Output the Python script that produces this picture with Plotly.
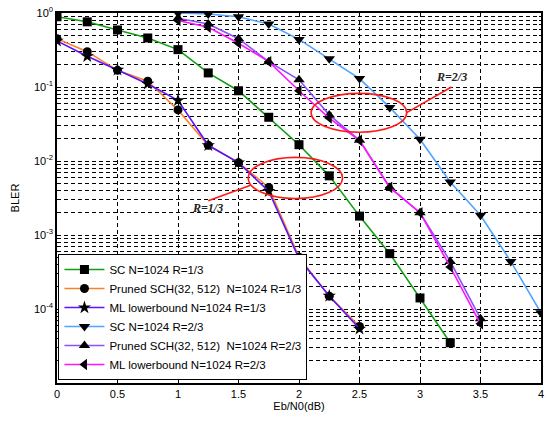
import plotly.graph_objects as go

ebn0_a = [0, 0.25, 0.5, 0.75, 1, 1.25, 1.5, 1.75, 2, 2.25, 2.5, 2.75, 3, 3.25]
sc_13 = [0.89, 0.76, 0.59, 0.46, 0.32, 0.155, 0.089, 0.039, 0.0166, 0.0063, 0.0018, 5.6e-4, 1.41e-4, 3.5e-5]

ebn0_b = [0, 0.25, 0.5, 0.75, 1, 1.25, 1.5, 1.75, 2, 2.25, 2.5]
pruned_13 = [0.45, 0.30, 0.168, 0.12, 0.049, 0.0163, 0.0095, 0.0044, 5.0e-4, 1.49e-4, 5.8e-5]
ml_13 = [0.42, 0.26, 0.17, 0.11, 0.066, 0.0163, 0.0095, 0.0039, 4.8e-4, 1.5e-4, 5.4e-5]

ebn0_c = [1, 1.25, 1.5, 1.75, 2, 2.25, 2.5, 2.75, 3, 3.25, 3.5, 3.75, 4]
sc_23 = [1.0, 0.97, 0.89, 0.71, 0.44, 0.24, 0.13, 0.053, 0.0197, 0.0052, 0.00185, 4.4e-4, 8.9e-5]

ebn0_d = [1, 1.25, 1.5, 1.75, 2, 2.25, 2.5, 2.75, 3, 3.25, 3.5]
pruned_23 = [0.85, 0.71, 0.45, 0.22, 0.125, 0.042, 0.019, 0.0044, 0.0020, 4.4e-4, 7.4e-5]
ml_23 = [0.79, 0.64, 0.39, 0.22, 0.089, 0.038, 0.019, 0.0044, 0.0020, 3.7e-4, 6.3e-5]

x_ticks = [0, 0.5, 1, 1.5, 2, 2.5, 3, 3.5, 4]
x_ticklabels = ["0", "0.5", "1", "1.5", "2", "2.5", "3", "3.5", "4"]
y_ticks = [1, 1e-1, 1e-2, 1e-3, 1e-4]
y_ticklabels = ["10<sup>0</sup>", "10<sup>-1</sup>", "10<sup>-2</sup>", "10<sup>-3</sup>", "10<sup>-4</sup>"]

names = ["SC N=1024 R=1/3",
         "Pruned SCH(32, 512)\u00a0 N=1024 R=1/3",
         "ML lowerbound N=1024 R=1/3",
         "SC N=1024 R=2/3",
         "Pruned SCH(32, 512)\u00a0 N=1024 R=2/3",
         "ML lowerbound N=1024 R=2/3"]
xs = [ebn0_a, ebn0_b, ebn0_b, ebn0_c, ebn0_d, ebn0_d]
ys = [sc_13, pruned_13, ml_13, sc_23, pruned_23, ml_23]
colors = ["#11a011", "#ff7f27", "#5a14ff", "#4ea4ff", "#8c50ff", "#ff14ff"]
symbols = ["square", "circle", "star", "triangle-down", "triangle-up", "triangle-left"]
sizes = [9, 9, 10, 10, 10, 10]

fig = go.Figure()
for x, y, n, c, s, sz in zip(xs, ys, names, colors, symbols, sizes):
    fig.add_trace(go.Scatter(
        x=x, y=y, name=n, mode="lines+markers",
        line=dict(color=c, width=1.6),
        marker=dict(symbol=s, size=sz, color="black", line=dict(width=0))))

red = "#ff1a1a"
fig.add_shape(type="circle", xref="x", yref="y", x0=1.58, x1=2.36, y0=0.0031, y1=0.0112,
              line=dict(color=red, width=1.6))
fig.add_shape(type="circle", xref="x", yref="y", x0=2.10, x1=2.89, y0=0.0245, y1=0.082,
              line=dict(color=red, width=1.6))
fig.add_shape(type="line", xref="x", yref="y", x0=1.25, y0=0.0029, x1=1.60, y1=0.0047,
              line=dict(color=red, width=1.6))
fig.add_shape(type="line", xref="x", yref="y", x0=2.89, y0=0.045, x1=3.26, y1=0.100,
              line=dict(color=red, width=1.6))
fig.add_annotation(x=1.24, y=-2.63, xref="x", yref="y", text="<b><i>R=1/3</i></b>",
                   showarrow=False, font=dict(family="Liberation Serif", size=12, color="#222"))
fig.add_annotation(x=3.26, y=-0.87, xref="x", yref="y", text="<b><i>R=2/3</i></b>",
                   showarrow=False, font=dict(family="Liberation Serif", size=12, color="#222"))

grid_dash = "4px,3px"
fig.update_xaxes(
    range=[0, 4], tickvals=x_ticks, ticktext=x_ticklabels,
    showgrid=True, gridcolor="black", gridwidth=1, griddash=grid_dash,
    showline=True, linecolor="black", linewidth=1.5, mirror="ticks",
    ticks="inside", ticklen=4, tickcolor="black",
    zeroline=False, automargin=False,
    title=dict(text="Eb/N0(dB)", standoff=3, font=dict(size=11)),
)
fig.update_yaxes(
    type="log", range=[-5, 0], tickvals=y_ticks, ticktext=y_ticklabels,
    showgrid=True, gridcolor="black", gridwidth=1, griddash=grid_dash,
    minor=dict(dtick="D1", showgrid=True, gridcolor="black", gridwidth=1, griddash=grid_dash,
               ticks="inside", ticklen=2, tickcolor="black"),
    showline=True, linecolor="black", linewidth=1.5, mirror="ticks",
    ticks="inside", ticklen=4, tickcolor="black",
    zeroline=False, automargin=False,
    title=dict(text="BLER", standoff=12, font=dict(size=11)),
)

fig.update_layout(
    width=551, height=422,
    margin=dict(l=57, r=10, t=13, b=39),
    paper_bgcolor="white", plot_bgcolor="white",
    font=dict(family="Liberation Sans, Arial", size=11, color="black"),
    showlegend=True,
    legend=dict(x=0.003, y=0.008, xanchor="left", yanchor="bottom",
                bgcolor="white", bordercolor="black", borderwidth=1,
                font=dict(size=11.5), itemwidth=40, tracegroupgap=0),
)

fig.write_html("out.html", config={"displayModeBar": False},
               post_script="document.body.style.margin='0';")
